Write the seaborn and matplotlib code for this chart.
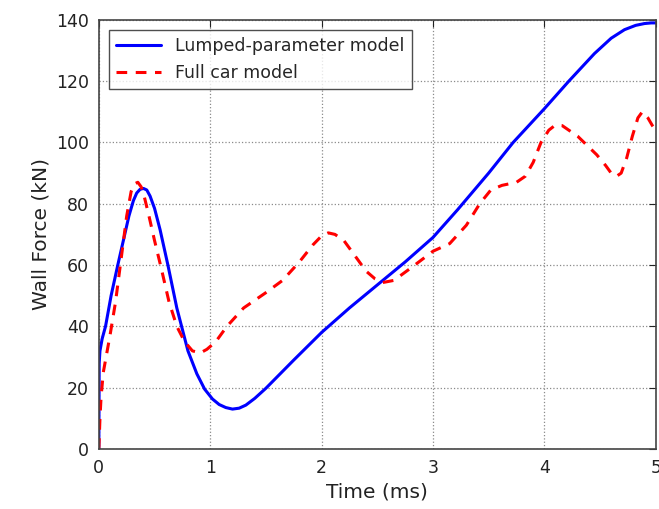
import matplotlib
matplotlib.use('Agg')
import matplotlib.pyplot as plt
import pandas as pd
import seaborn as sns

# Lumped-parameter model
lumped_t = [0.0, 0.003, 0.01, 0.03, 0.06, 0.11, 0.17, 0.22, 0.27, 0.31, 0.34, 0.37, 0.4,
            0.43, 0.46, 0.5, 0.55, 0.62, 0.7, 0.8, 0.88, 0.95, 1.02, 1.08, 1.14, 1.2,
            1.26, 1.32, 1.4, 1.5, 1.75, 2.0, 2.25, 2.5, 2.75, 3.0, 3.22, 3.5, 3.72,
            4.0, 4.22, 4.45, 4.6, 4.72, 4.82, 4.9, 4.96, 5.0]
lumped_f = [0.0, 28, 32, 36, 40, 50, 60, 68, 76, 81, 83.5, 84.7, 85,
            84.5, 82.5, 78.5, 71.5, 60, 46, 32, 24.5, 19.5, 16.3, 14.5, 13.5, 13,
            13.3, 14.3, 16.5, 19.8, 29, 38, 46, 53.5, 61, 69, 78, 90, 100,
            111, 120, 129, 134, 136.8, 138.2, 138.8, 139, 139]

# Full car model
full_t = [0.0, 0.01, 0.02, 0.04, 0.07, 0.1, 0.15, 0.2, 0.25, 0.29, 0.32, 0.35, 0.38,
          0.41, 0.45, 0.5, 0.56, 0.63, 0.7, 0.77, 0.84, 0.91, 0.97, 1.05, 1.15, 1.3,
          1.5, 1.65, 1.8, 1.92, 2.0, 2.06, 2.12, 2.2, 2.3, 2.4, 2.48, 2.55, 2.65,
          2.8, 3.0, 3.15, 3.3, 3.42, 3.52, 3.62, 3.75, 3.83, 3.9, 3.97, 4.04, 4.1,
          4.16, 4.3, 4.47, 4.55, 4.61, 4.65, 4.69, 4.74, 4.79, 4.84, 4.88, 4.93,
          4.97, 5.0]
full_f = [0.0, 10, 17, 25, 31, 37, 48, 62, 76, 84, 86.5, 87, 85.5,
          82, 76, 68, 59, 48, 40, 35, 32, 31.3, 32.5, 35, 40, 46,
          51, 55, 61, 66.5, 69.5, 70.5, 70, 68, 63, 58, 55.5, 54.3, 55,
          59, 64.5, 67, 73, 80, 84.5, 86, 87, 89, 93.5, 100, 104, 105.7,
          105.5, 102, 96, 92.5, 89.5, 89, 90, 95, 102, 108, 110, 108,
          105.5, 104]

lumped = pd.DataFrame({'t': lumped_t, 'f': lumped_f})
full = pd.DataFrame({'t': full_t, 'f': full_f})

sns.set_style('white')
plt.rcParams['font.family'] = ['DejaVu Sans']

fig = plt.figure(figsize=(6.59, 5.09), dpi=100)
ax = fig.add_axes([0.150, 0.118, 0.845, 0.843])

sns.lineplot(data=lumped, x='t', y='f', ax=ax, color='#0000ff', linewidth=2.2,
             label='Lumped-parameter model', sort=False)
sns.lineplot(data=full, x='t', y='f', ax=ax, color='#ff0000', linewidth=2.2,
             label='Full car model', sort=False)
ax.lines[1].set_dashes((3.5, 2.8))

ax.set_xlim(0, 5)
ax.set_ylim(0, 140)
ax.set_xticks([0, 1, 2, 3, 4, 5])
ax.set_yticks(range(0, 141, 20))
ax.grid(True, color='#8a8a8a', linestyle=':', linewidth=0.9)
ax.tick_params(direction='in', length=5, width=0.8, labelsize=12.5,
               top=True, right=True, pad=7, colors='#222222')
for s in ax.spines.values():
    s.set_color('#444444')
    s.set_linewidth(1.2)

ax.set_xlabel('Time (ms)', fontsize=14.5, color='#222222')
ax.set_ylabel('Wall Force (kN)', fontsize=14.5, color='#222222')

leg = ax.legend(loc='upper left', fontsize=12.5, frameon=True, fancybox=False,
                edgecolor='#222222', handlelength=2.6, borderaxespad=0.6)
leg.get_frame().set_linewidth(1.0)

fig.savefig('out.png', dpi=100)
